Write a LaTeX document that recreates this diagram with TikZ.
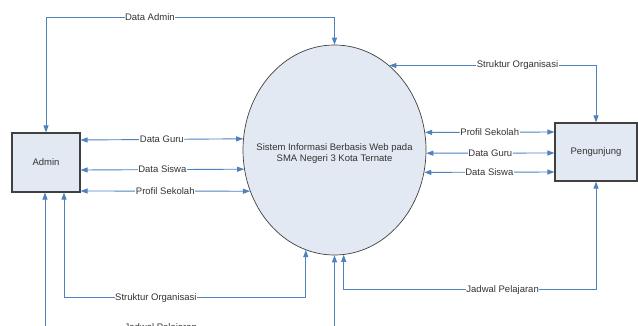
\documentclass[tikz,border=0pt]{standalone}
\usepackage{fontspec}
\setmainfont{Liberation Sans}
\usepackage{tikz}
\usetikzlibrary{shapes.geometric, arrows.meta}
\definecolor{flowblue}{HTML}{4F81BD}
\definecolor{boxfill}{HTML}{E2E9F3}
\definecolor{edgegray}{HTML}{404040}
\tikzstyle{flow} = [draw=flowblue, line width=0.9pt, {Triangle[length=7pt,width=5pt]}-{Triangle[length=7pt,width=5pt]}, color=flowblue]
\tikzstyle{entity} = [draw=edgegray, line width=1.1pt, fill=boxfill, inner sep=0pt, text=black!80]
\tikzstyle{lbl} = [fill=white, inner sep=0.5pt, text=black!80, font=\fontsize{9.5}{11}\selectfont]

\begin{document}
\begin{tikzpicture}[x=1pt, y=-1pt, font=\fontsize{9.5}{11}\selectfont]
\useasboundingbox (0,0) rectangle (638,325);
\clip (0,0) rectangle (638,325);

\node[entity, minimum width=68pt, minimum height=59pt] (admin) at (46,162.5) {Admin};
\node[entity, minimum width=82pt, minimum height=58pt] (pengunjung) at (596,152) {Pengunjung};
\node[ellipse, draw=edgegray, line width=0.7pt, fill=boxfill, inner sep=0pt,
  minimum width=183pt, minimum height=210pt,
  label={[align=center, text=black!80, yshift=-3.5pt]center:Sistem Informasi Berbasis Web pada\\SMA Negeri 3 Kota Ternate}]
  (sistem) at (334.5,150) {};

\draw[flow] (admin.north) -- ++(0,-115) -| node[lbl, pos=0.18] {Data Admin} (sistem.90);
\draw[flow] (sistem.57.7) -| node[lbl, pos=0.31] {Struktur Organisasi} (pengunjung.north);

\draw[flow] ([yshift=22.5pt]admin.east) -- node[lbl] {Data Guru} (sistem.173.7);
\draw[flow] ([yshift=-7.5pt]admin.east) -- node[lbl] {Data Siswa} (sistem.192.6);
\draw[flow] ([yshift=-28.5pt]admin.east) -- node[lbl] {Profil Sekolah} (sistem.206);

\draw[flow] (sistem.11.3) -- node[lbl] {Profil Sekolah} ([yshift=20pt]pengunjung.west);
\draw[flow] (sistem.358.1) -- node[lbl] {Data Guru} ([yshift=-1pt]pengunjung.west);
\draw[flow] (sistem.346.2) -- node[lbl] {Data Siswa} ([yshift=-20pt]pengunjung.west);

\draw[flow] ([xshift=18pt]admin.south) -- ++(0,105) -| node[lbl, pos=0.19] {Struktur Organisasi} (sistem.254.6);
\draw[flow] (pengunjung.south) -- ++(0,108) -| node[lbl, pos=0.185] {Jadwal Pelajaran} (sistem.275.75);
\draw[flow] ([xshift=-1pt]admin.south) -- ++(0,135) -| node[lbl, pos=0.2] {Jadwal Pelajaran} (sistem.270);
\end{tikzpicture}
\end{document}
